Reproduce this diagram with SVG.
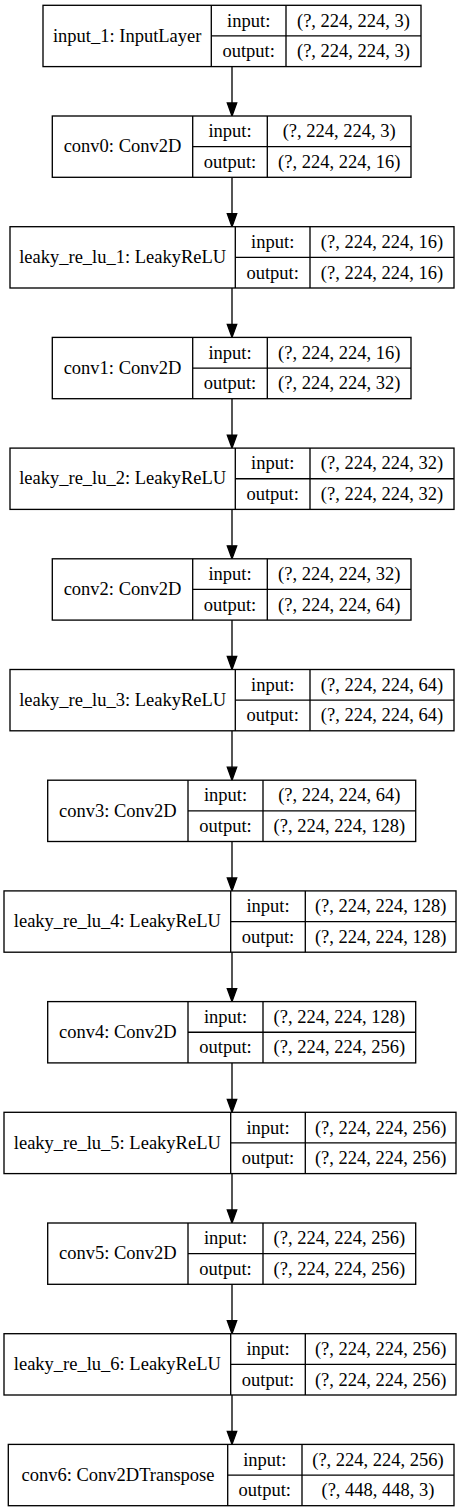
<svg xmlns="http://www.w3.org/2000/svg" width="464" height="1512" viewBox="0 0 464 1512">
<style>
.box{fill:#fff;stroke:#000;stroke-width:1.33}
.ln{stroke:#000;stroke-width:1.33;fill:none}
text{font-family:"Liberation Serif","Times New Roman",serif;font-size:18.5px;fill:#000;text-anchor:middle}
.edge{stroke:#000;stroke-width:1.33;fill:none}
.head{fill:#000;stroke:#000;stroke-width:1.33}
</style>
<rect width="464" height="1512" fill="#fff"/>
<g id="connectors">
<line class="edge" x1="232" y1="66.6" x2="232" y2="103"/><polygon class="head" points="227.3,103 236.7,103 232,116"/>
<line class="edge" x1="232" y1="177.3" x2="232" y2="213.7"/><polygon class="head" points="227.3,213.7 236.7,213.7 232,226.7"/>
<line class="edge" x1="232" y1="288" x2="232" y2="324.4"/><polygon class="head" points="227.3,324.4 236.7,324.4 232,337.4"/>
<line class="edge" x1="232" y1="398.7" x2="232" y2="435.1"/><polygon class="head" points="227.3,435.1 236.7,435.1 232,448.1"/>
<line class="edge" x1="232" y1="509.4" x2="232" y2="545.8"/><polygon class="head" points="227.3,545.8 236.7,545.8 232,558.8"/>
<line class="edge" x1="232" y1="620.1" x2="232" y2="656.5"/><polygon class="head" points="227.3,656.5 236.7,656.5 232,669.5"/>
<line class="edge" x1="232" y1="730.8" x2="232" y2="767.2"/><polygon class="head" points="227.3,767.2 236.7,767.2 232,780.2"/>
<line class="edge" x1="232" y1="841.5" x2="232" y2="877.9"/><polygon class="head" points="227.3,877.9 236.7,877.9 232,890.9"/>
<line class="edge" x1="232" y1="952.2" x2="232" y2="988.6"/><polygon class="head" points="227.3,988.6 236.7,988.6 232,1001.6"/>
<line class="edge" x1="232" y1="1062.9" x2="232" y2="1099.3"/><polygon class="head" points="227.3,1099.3 236.7,1099.3 232,1112.3"/>
<line class="edge" x1="232" y1="1173.6" x2="232" y2="1210"/><polygon class="head" points="227.3,1210 236.7,1210 232,1223"/>
<line class="edge" x1="232" y1="1284.3" x2="232" y2="1320.7"/><polygon class="head" points="227.3,1320.7 236.7,1320.7 232,1333.7"/>
<line class="edge" x1="232" y1="1395" x2="232" y2="1431.4"/><polygon class="head" points="227.3,1431.4 236.7,1431.4 232,1444.4"/>
</g>
<g id="input_1" transform="translate(0,5.3)">
<rect class="box" x="43" y="0" width="378" height="61.3"/>
<line class="ln" x1="211.3" y1="0" x2="211.3" y2="61.3"/><line class="ln" x1="286" y1="0" x2="286" y2="61.3"/><line class="ln" x1="211.3" y1="30.65" x2="421" y2="30.65"/>
<text x="127.2" y="36.4">input_1: InputLayer</text>
<text x="248.7" y="21.3">input:</text><text x="248.7" y="51.9">output:</text>
<text x="353.5" y="21.3">(?, 224, 224, 3)</text><text x="353.5" y="51.9">(?, 224, 224, 3)</text>
</g>
<g id="conv0" transform="translate(0,116)">
<rect class="box" x="52.3" y="0" width="358.7" height="61.3"/>
<line class="ln" x1="192.7" y1="0" x2="192.7" y2="61.3"/><line class="ln" x1="267.3" y1="0" x2="267.3" y2="61.3"/><line class="ln" x1="192.7" y1="30.65" x2="411" y2="30.65"/>
<text x="122.5" y="36.4">conv0: Conv2D</text>
<text x="230" y="21.3">input:</text><text x="230" y="51.9">output:</text>
<text x="339.2" y="21.3">(?, 224, 224, 3)</text><text x="339.2" y="51.9">(?, 224, 224, 16)</text>
</g>
<g id="leaky_re_lu_1" transform="translate(0,226.7)">
<rect class="box" x="10" y="0" width="444" height="61.3"/>
<line class="ln" x1="235.3" y1="0" x2="235.3" y2="61.3"/><line class="ln" x1="310" y1="0" x2="310" y2="61.3"/><line class="ln" x1="235.3" y1="30.65" x2="454" y2="30.65"/>
<text x="122.7" y="36.4">leaky_re_lu_1: LeakyReLU</text>
<text x="272.7" y="21.3">input:</text><text x="272.7" y="51.9">output:</text>
<text x="382" y="21.3">(?, 224, 224, 16)</text><text x="382" y="51.9">(?, 224, 224, 16)</text>
</g>
<g id="conv1" transform="translate(0,337.4)">
<rect class="box" x="52.3" y="0" width="358.7" height="61.3"/>
<line class="ln" x1="192.7" y1="0" x2="192.7" y2="61.3"/><line class="ln" x1="267.3" y1="0" x2="267.3" y2="61.3"/><line class="ln" x1="192.7" y1="30.65" x2="411" y2="30.65"/>
<text x="122.5" y="36.4">conv1: Conv2D</text>
<text x="230" y="21.3">input:</text><text x="230" y="51.9">output:</text>
<text x="339.2" y="21.3">(?, 224, 224, 16)</text><text x="339.2" y="51.9">(?, 224, 224, 32)</text>
</g>
<g id="leaky_re_lu_2" transform="translate(0,448.1)">
<rect class="box" x="10" y="0" width="444" height="61.3"/>
<line class="ln" x1="235.3" y1="0" x2="235.3" y2="61.3"/><line class="ln" x1="310" y1="0" x2="310" y2="61.3"/><line class="ln" x1="235.3" y1="30.65" x2="454" y2="30.65"/>
<text x="122.7" y="36.4">leaky_re_lu_2: LeakyReLU</text>
<text x="272.7" y="21.3">input:</text><text x="272.7" y="51.9">output:</text>
<text x="382" y="21.3">(?, 224, 224, 32)</text><text x="382" y="51.9">(?, 224, 224, 32)</text>
</g>
<g id="conv2" transform="translate(0,558.8)">
<rect class="box" x="52.3" y="0" width="358.7" height="61.3"/>
<line class="ln" x1="192.7" y1="0" x2="192.7" y2="61.3"/><line class="ln" x1="267.3" y1="0" x2="267.3" y2="61.3"/><line class="ln" x1="192.7" y1="30.65" x2="411" y2="30.65"/>
<text x="122.5" y="36.4">conv2: Conv2D</text>
<text x="230" y="21.3">input:</text><text x="230" y="51.9">output:</text>
<text x="339.2" y="21.3">(?, 224, 224, 32)</text><text x="339.2" y="51.9">(?, 224, 224, 64)</text>
</g>
<g id="leaky_re_lu_3" transform="translate(0,669.5)">
<rect class="box" x="10" y="0" width="444" height="61.3"/>
<line class="ln" x1="235.3" y1="0" x2="235.3" y2="61.3"/><line class="ln" x1="310" y1="0" x2="310" y2="61.3"/><line class="ln" x1="235.3" y1="30.65" x2="454" y2="30.65"/>
<text x="122.7" y="36.4">leaky_re_lu_3: LeakyReLU</text>
<text x="272.7" y="21.3">input:</text><text x="272.7" y="51.9">output:</text>
<text x="382" y="21.3">(?, 224, 224, 64)</text><text x="382" y="51.9">(?, 224, 224, 64)</text>
</g>
<g id="conv3" transform="translate(0,780.2)">
<rect class="box" x="47.7" y="0" width="368" height="61.3"/>
<line class="ln" x1="188" y1="0" x2="188" y2="61.3"/><line class="ln" x1="263" y1="0" x2="263" y2="61.3"/><line class="ln" x1="188" y1="30.65" x2="415.7" y2="30.65"/>
<text x="117.8" y="36.4">conv3: Conv2D</text>
<text x="225.5" y="21.3">input:</text><text x="225.5" y="51.9">output:</text>
<text x="339.3" y="21.3">(?, 224, 224, 64)</text><text x="339.3" y="51.9">(?, 224, 224, 128)</text>
</g>
<g id="leaky_re_lu_4" transform="translate(0,890.9)">
<rect class="box" x="4" y="0" width="452" height="61.3"/>
<line class="ln" x1="230.7" y1="0" x2="230.7" y2="61.3"/><line class="ln" x1="305.3" y1="0" x2="305.3" y2="61.3"/><line class="ln" x1="230.7" y1="30.65" x2="456" y2="30.65"/>
<text x="117.3" y="36.4">leaky_re_lu_4: LeakyReLU</text>
<text x="268" y="21.3">input:</text><text x="268" y="51.9">output:</text>
<text x="380.7" y="21.3">(?, 224, 224, 128)</text><text x="380.7" y="51.9">(?, 224, 224, 128)</text>
</g>
<g id="conv4" transform="translate(0,1001.6)">
<rect class="box" x="47.7" y="0" width="368" height="61.3"/>
<line class="ln" x1="188" y1="0" x2="188" y2="61.3"/><line class="ln" x1="263" y1="0" x2="263" y2="61.3"/><line class="ln" x1="188" y1="30.65" x2="415.7" y2="30.65"/>
<text x="117.8" y="36.4">conv4: Conv2D</text>
<text x="225.5" y="21.3">input:</text><text x="225.5" y="51.9">output:</text>
<text x="339.3" y="21.3">(?, 224, 224, 128)</text><text x="339.3" y="51.9">(?, 224, 224, 256)</text>
</g>
<g id="leaky_re_lu_5" transform="translate(0,1112.3)">
<rect class="box" x="4" y="0" width="452" height="61.3"/>
<line class="ln" x1="230.7" y1="0" x2="230.7" y2="61.3"/><line class="ln" x1="305.3" y1="0" x2="305.3" y2="61.3"/><line class="ln" x1="230.7" y1="30.65" x2="456" y2="30.65"/>
<text x="117.3" y="36.4">leaky_re_lu_5: LeakyReLU</text>
<text x="268" y="21.3">input:</text><text x="268" y="51.9">output:</text>
<text x="380.7" y="21.3">(?, 224, 224, 256)</text><text x="380.7" y="51.9">(?, 224, 224, 256)</text>
</g>
<g id="conv5" transform="translate(0,1223)">
<rect class="box" x="47.7" y="0" width="368" height="61.3"/>
<line class="ln" x1="188" y1="0" x2="188" y2="61.3"/><line class="ln" x1="263" y1="0" x2="263" y2="61.3"/><line class="ln" x1="188" y1="30.65" x2="415.7" y2="30.65"/>
<text x="117.8" y="36.4">conv5: Conv2D</text>
<text x="225.5" y="21.3">input:</text><text x="225.5" y="51.9">output:</text>
<text x="339.3" y="21.3">(?, 224, 224, 256)</text><text x="339.3" y="51.9">(?, 224, 224, 256)</text>
</g>
<g id="leaky_re_lu_6" transform="translate(0,1333.7)">
<rect class="box" x="4" y="0" width="452" height="61.3"/>
<line class="ln" x1="230.7" y1="0" x2="230.7" y2="61.3"/><line class="ln" x1="305.3" y1="0" x2="305.3" y2="61.3"/><line class="ln" x1="230.7" y1="30.65" x2="456" y2="30.65"/>
<text x="117.3" y="36.4">leaky_re_lu_6: LeakyReLU</text>
<text x="268" y="21.3">input:</text><text x="268" y="51.9">output:</text>
<text x="380.7" y="21.3">(?, 224, 224, 256)</text><text x="380.7" y="51.9">(?, 224, 224, 256)</text>
</g>
<g id="conv6" transform="translate(0,1444.4)">
<rect class="box" x="8.3" y="0" width="445.7" height="61.3"/>
<line class="ln" x1="227.7" y1="0" x2="227.7" y2="61.3"/><line class="ln" x1="302" y1="0" x2="302" y2="61.3"/><line class="ln" x1="227.7" y1="30.65" x2="454" y2="30.65"/>
<text x="118" y="36.4">conv6: Conv2DTranspose</text>
<text x="264.8" y="21.3">input:</text><text x="264.8" y="51.9">output:</text>
<text x="378" y="21.3">(?, 224, 224, 256)</text><text x="378" y="51.9">(?, 448, 448, 3)</text>
</g>
</svg>
